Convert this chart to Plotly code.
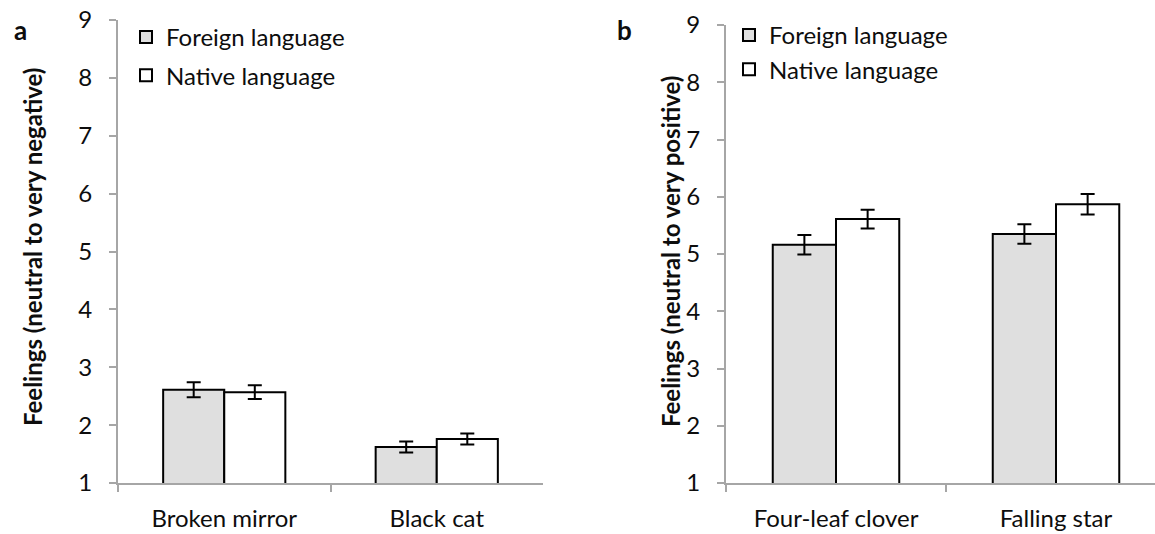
import plotly.graph_objects as go

# Data
cats_a = ["Broken mirror", "Black cat"]
foreign_a = [2.61, 1.62]
native_a = [2.57, 1.76]
foreign_a_err = [0.13, 0.095]
native_a_err = [0.12, 0.095]

cats_b = ["Four-leaf clover", "Falling star"]
foreign_b = [5.16, 5.35]
native_b = [5.61, 5.87]
foreign_b_err = [0.17, 0.17]
native_b_err = [0.165, 0.18]

series_names = ["Foreign language", "Native language"]
y_ticks = [1, 2, 3, 4, 5, 6, 7, 8, 9]

W, H = 1155, 534
FONT = "Lato"
FILL_F = "#dfdfdf"
FILL_N = "#ffffff"
AX = "#a6a6a6"
TXT = "#0d0d0d"

fig = go.Figure()

def add_pair(cats, f, n, fe, ne, xa, ya, leg):
    fig.add_trace(go.Bar(
        x=cats, y=f, name=series_names[0], xaxis=xa, yaxis=ya,
        marker=dict(color=FILL_F, line=dict(color="black", width=2)),
        error_y=dict(type="data", array=fe, color="black", thickness=2, width=7),
        legend=leg, legendgroup=leg + "f",
    ))
    fig.add_trace(go.Bar(
        x=cats, y=n, name=series_names[1], xaxis=xa, yaxis=ya,
        marker=dict(color=FILL_N, line=dict(color="black", width=2)),
        error_y=dict(type="data", array=ne, color="black", thickness=2, width=7),
        legend=leg, legendgroup=leg + "n",
    ))

add_pair(cats_a, foreign_a, native_a, foreign_a_err, native_a_err, "x", "y", "legend")
add_pair(cats_b, foreign_b, native_b, foreign_b_err, native_b_err, "x2", "y2", "legend2")

ybot = (H - 483) / H
xcommon = dict(
    type="category", showline=True, linecolor=AX, linewidth=2,
    ticks="outside", tickson="boundaries", ticklen=7, tickcolor=AX, tickwidth=2,
    tickfont=dict(family=FONT, size=24, color=TXT), showgrid=False,
    ticklabelstandoff=13, zeroline=False, fixedrange=True, automargin=False,
)
ycommon = dict(
    range=[1, 9], tickvals=y_ticks, showline=True, linecolor=AX, linewidth=2,
    ticks="outside", ticklen=7, tickcolor=AX, tickwidth=2,
    tickfont=dict(family=FONT, size=24, color=TXT), showgrid=False,
    zeroline=False, ticklabelstandoff=12, fixedrange=True, automargin=False,
)

legcommon = dict(
    font=dict(family=FONT, size=24, color=TXT),
    traceorder="grouped", bgcolor="rgba(0,0,0,0)",
    xanchor="left", yanchor="top", itemclick=False, itemdoubleclick=False,
)

fig.update_layout(
    width=W, height=H,
    margin=dict(l=0, r=0, t=0, b=0, autoexpand=False),
    paper_bgcolor="white", plot_bgcolor="white",
    barmode="group", bargap=0.425, bargroupgap=0,
    xaxis=dict(domain=[118 / W, 543 / W], anchor="y", range=[-0.5, 1.5], **xcommon),
    xaxis2=dict(domain=[726 / W, 1.0], anchor="y2", range=[-0.5, 1.45], **xcommon),
    yaxis=dict(domain=[ybot, (H - 20) / H], anchor="x", **ycommon),
    yaxis2=dict(domain=[ybot, (H - 25) / H], anchor="x2", **ycommon),
    legend=dict(x=126 / W, y=(H - 15) / H, tracegroupgap=4, **legcommon),
    legend2=dict(x=729 / W, y=(H - 13) / H, tracegroupgap=0, **legcommon),
    showlegend=True,
    hovermode=False,
    annotations=[
        dict(text="<b>a</b>", x=20 / W, y=(H - 30) / H, xref="paper", yref="paper",
             xanchor="center", yanchor="middle",
             showarrow=False, font=dict(family=FONT, size=26, color=TXT)),
        dict(text="<b>b</b>", x=624 / W, y=(H - 30) / H, xref="paper", yref="paper",
             xanchor="center", yanchor="middle",
             showarrow=False, font=dict(family=FONT, size=26, color=TXT)),
        dict(text="<b>Feelings (neutral to very negative)</b>", textangle=-90,
             x=32 / W, y=(H - 247) / H, xref="paper", yref="paper", showarrow=False,
             xanchor="center", yanchor="middle",
             font=dict(family=FONT, size=24, color=TXT)),
        dict(text="<b>Feelings (neutral to very positive)</b>", textangle=-90,
             x=670 / W, y=(H - 252) / H, xref="paper", yref="paper", showarrow=False,
             xanchor="center", yanchor="middle",
             font=dict(family=FONT, size=24, color=TXT)),
    ],
)

fig.write_html(
    "out.html",
    config={"displayModeBar": False, "staticPlot": True},
    post_script="document.body.style.margin='0';document.body.style.padding='0';",
)
